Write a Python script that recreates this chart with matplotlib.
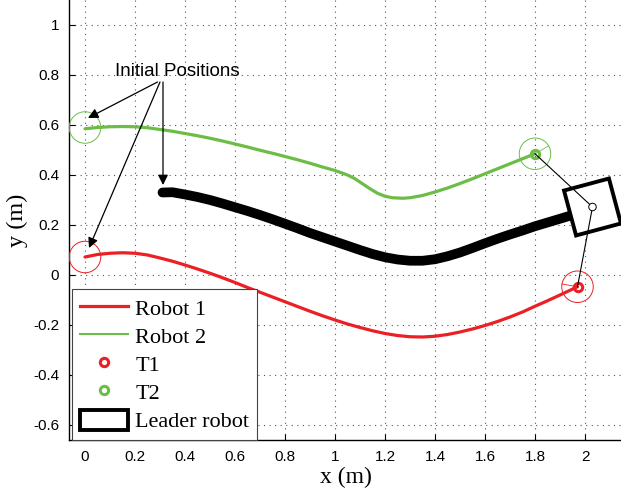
import numpy as np
import matplotlib
matplotlib.use("Agg")
import matplotlib.pyplot as plt
from matplotlib.patches import Circle, Polygon, Rectangle
from matplotlib.lines import Line2D

# Robot 1 path (red)
r1_x = [0, 0.05, 0.1, 0.15, 0.2, 0.25, 0.3, 0.35, 0.4, 0.45, 0.5, 0.55, 0.6,
        0.65, 0.7, 0.75, 0.8, 0.85, 0.9, 0.95, 1.0, 1.05, 1.1, 1.15, 1.2, 1.25,
        1.3, 1.35, 1.4, 1.45, 1.5, 1.55, 1.6, 1.65, 1.7, 1.75, 1.8, 1.85, 1.9, 1.97]
r1_y = [0.072, 0.082, 0.087, 0.089, 0.087, 0.08, 0.068, 0.055, 0.04, 0.024,
        0.007, -0.011, -0.03, -0.05, -0.069, -0.088, -0.107, -0.126, -0.145,
        -0.163, -0.18, -0.196, -0.21, -0.223, -0.234, -0.242, -0.247, -0.248,
        -0.245, -0.238, -0.228, -0.216, -0.202, -0.186, -0.168, -0.148, -0.125,
        -0.103, -0.08, -0.047]

# Robot 2 path (green)
r2_x = [0, 0.05, 0.1, 0.15, 0.2, 0.25, 0.3, 0.35, 0.4, 0.45, 0.5, 0.55, 0.6,
        0.65, 0.7, 0.75, 0.8, 0.85, 0.9, 0.95, 1.0, 1.05, 1.08, 1.11, 1.14, 1.17,
        1.2, 1.23, 1.27, 1.3, 1.35, 1.4, 1.45, 1.5, 1.55, 1.6, 1.65, 1.7, 1.75, 1.8]
r2_y = [0.585, 0.59, 0.593, 0.594, 0.593, 0.589, 0.582, 0.575, 0.566, 0.557,
        0.547, 0.536, 0.524, 0.512, 0.499, 0.487, 0.474, 0.461, 0.447, 0.432,
        0.418, 0.40, 0.385, 0.365, 0.345, 0.327, 0.315, 0.309, 0.307, 0.309,
        0.318, 0.332, 0.348, 0.366, 0.385, 0.405, 0.425, 0.445, 0.465, 0.485]

# Leader robot path (black)
ld_x = [0.31, 0.35, 0.4, 0.45, 0.5, 0.55, 0.6, 0.65, 0.7, 0.75, 0.8, 0.85, 0.9,
        0.95, 1.0, 1.05, 1.1, 1.15, 1.2, 1.25, 1.3, 1.35, 1.4, 1.45, 1.5, 1.55,
        1.6, 1.65, 1.7, 1.75, 1.8, 1.85, 1.9, 1.95, 2.03]
ld_y = [0.33, 0.331, 0.322, 0.312, 0.30, 0.286, 0.271, 0.256, 0.24, 0.223,
        0.205, 0.187, 0.168, 0.151, 0.134, 0.117, 0.10, 0.084, 0.071, 0.062,
        0.057, 0.057, 0.063, 0.075, 0.09, 0.108, 0.127, 0.145, 0.162, 0.178,
        0.195, 0.21, 0.225, 0.24, 0.265]

# targets, leader pose
t1 = (1.97, -0.047)
t2 = (1.8, 0.485)
leader = (2.03, 0.272)
leader_side = 0.186
leader_angle = 15  # degrees
start1 = (0.0, 0.072)
start2 = (0.0, 0.59)
circle_r = 0.063

red = "#ec1f24"
green = "#6cbd45"

xticks = np.arange(0, 2.01, 0.2)
yticks = np.arange(-0.6, 1.01, 0.2)

fig = plt.figure(figsize=(6.21, 4.92), dpi=100)
ax = fig.add_axes([69 / 621, 52 / 492, 566 / 621, 440 / 492])

ax.plot(r1_x, r1_y, color=red, lw=2.3, solid_capstyle="round", zorder=3)
ax.plot(r2_x, r2_y, color=green, lw=2.3, solid_capstyle="round", zorder=3)
ax.plot(ld_x, ld_y, color="black", lw=7, solid_capstyle="round", zorder=3)

# big thin circles
for c, col in [(start1, red), (start2, green), (t1, red), (t2, green)]:
    ax.add_patch(Circle(c, circle_r, fill=False, ec=col, lw=0.7, zorder=4))
for c, col, ang in [(t1, red, 170), (t2, green, 30)]:
    a = np.deg2rad(ang)
    ax.plot([c[0], c[0] + circle_r * np.cos(a)], [c[1], c[1] + circle_r * np.sin(a)],
            color=col, lw=0.6, zorder=4)

# target markers
ax.plot(*t1, "o", ms=6, mfc="none", mec=red, mew=2.2, zorder=5)
ax.plot(*t2, "o", ms=6, mfc="none", mec=green, mew=2.2, zorder=5)

# leader box
a = np.deg2rad(leader_angle)
h = leader_side / 2
corners = []
for dx, dy in [(-h, h), (h, h), (h, -h), (-h, -h)]:
    corners.append((leader[0] + dx * np.cos(a) - dy * np.sin(a),
                    leader[1] + dx * np.sin(a) + dy * np.cos(a)))
ax.add_patch(Polygon(corners, closed=True, fill=True, fc="white", ec="black",
                     lw=2.8, zorder=6))
ax.plot([t2[0], leader[0]], [t2[1], leader[1]], color="black", lw=0.8, zorder=7)
ax.plot([t1[0], leader[0]], [t1[1], leader[1]], color="black", lw=0.8, zorder=7)
ax.add_patch(Circle(leader, 0.015, fill=True, fc="white", ec="black", lw=0.7, zorder=8))

# annotation
ax.text(0.368, 0.815, "Initial Positions", ha="center", va="center",
        fontsize=13.5, family="Liberation Sans", zorder=9)
arrow = dict(arrowstyle="-|>", color="black", lw=0.9, mutation_scale=15,
             shrinkA=0, shrinkB=0)
ax.annotate("", xy=(0.012, 0.628), xytext=(0.29, 0.772), arrowprops=arrow, zorder=9)
ax.annotate("", xy=(0.016, 0.108), xytext=(0.30, 0.772), arrowprops=arrow, zorder=9)
ax.annotate("", xy=(0.312, 0.36), xytext=(0.312, 0.772), arrowprops=arrow, zorder=9)

ax.set_xlim(-0.064, 2.2)
ax.set_ylim(-0.66, 1.1)
ax.set_xticks(xticks)
ax.set_yticks(yticks)
ax.set_xticklabels(["%g" % round(v, 1) for v in xticks], family="Liberation Sans",
                   fontsize=11)
ax.set_yticklabels(["%g" % round(v, 1) for v in yticks], family="Liberation Sans",
                   fontsize=11)
ax.tick_params(direction="in", length=4, width=0.8, pad=7)
ax.grid(True, linestyle=(0, (1, 4)), color="#555555", lw=0.8)
for s in ["top", "right"]:
    ax.spines[s].set_visible(False)
for s in ["left", "bottom"]:
    ax.spines[s].set_linewidth(1.0)

ax.set_xlabel("x (m)", family="Liberation Serif", fontsize=17)
ax.xaxis.set_label_coords((346 - 69) / 566, -0.061)
ax.set_ylabel("y (m)", family="Liberation Serif", fontsize=17.5, labelpad=4)

handles = [
    Line2D([], [], color=red, lw=2.3),
    Line2D([], [], color=green, lw=1.5),
    Line2D([], [], ls="none", marker="o", ms=6, mfc="none", mec=red, mew=2.2),
    Line2D([], [], ls="none", marker="o", ms=6, mfc="none", mec=green, mew=2.2),
    Rectangle((0, 0), 1, 1, fc="white", ec="black", lw=2.8),
]
labels = ["Robot 1", "Robot 2", "T1", "T2", "Leader robot"]
leg = ax.legend(handles, labels, loc="lower left", bbox_to_anchor=(0.005, 0.0),
                borderaxespad=0, fancybox=False, framealpha=1, edgecolor="#444444",
                prop={"family": "Liberation Serif", "size": 16}, handlelength=2.2,
                handleheight=1.0, labelspacing=0.25, borderpad=0.35, handletextpad=0.3)
leg.get_frame().set_linewidth(0.8)
leg.set_zorder(10)

plt.savefig("out.png", dpi=100)
